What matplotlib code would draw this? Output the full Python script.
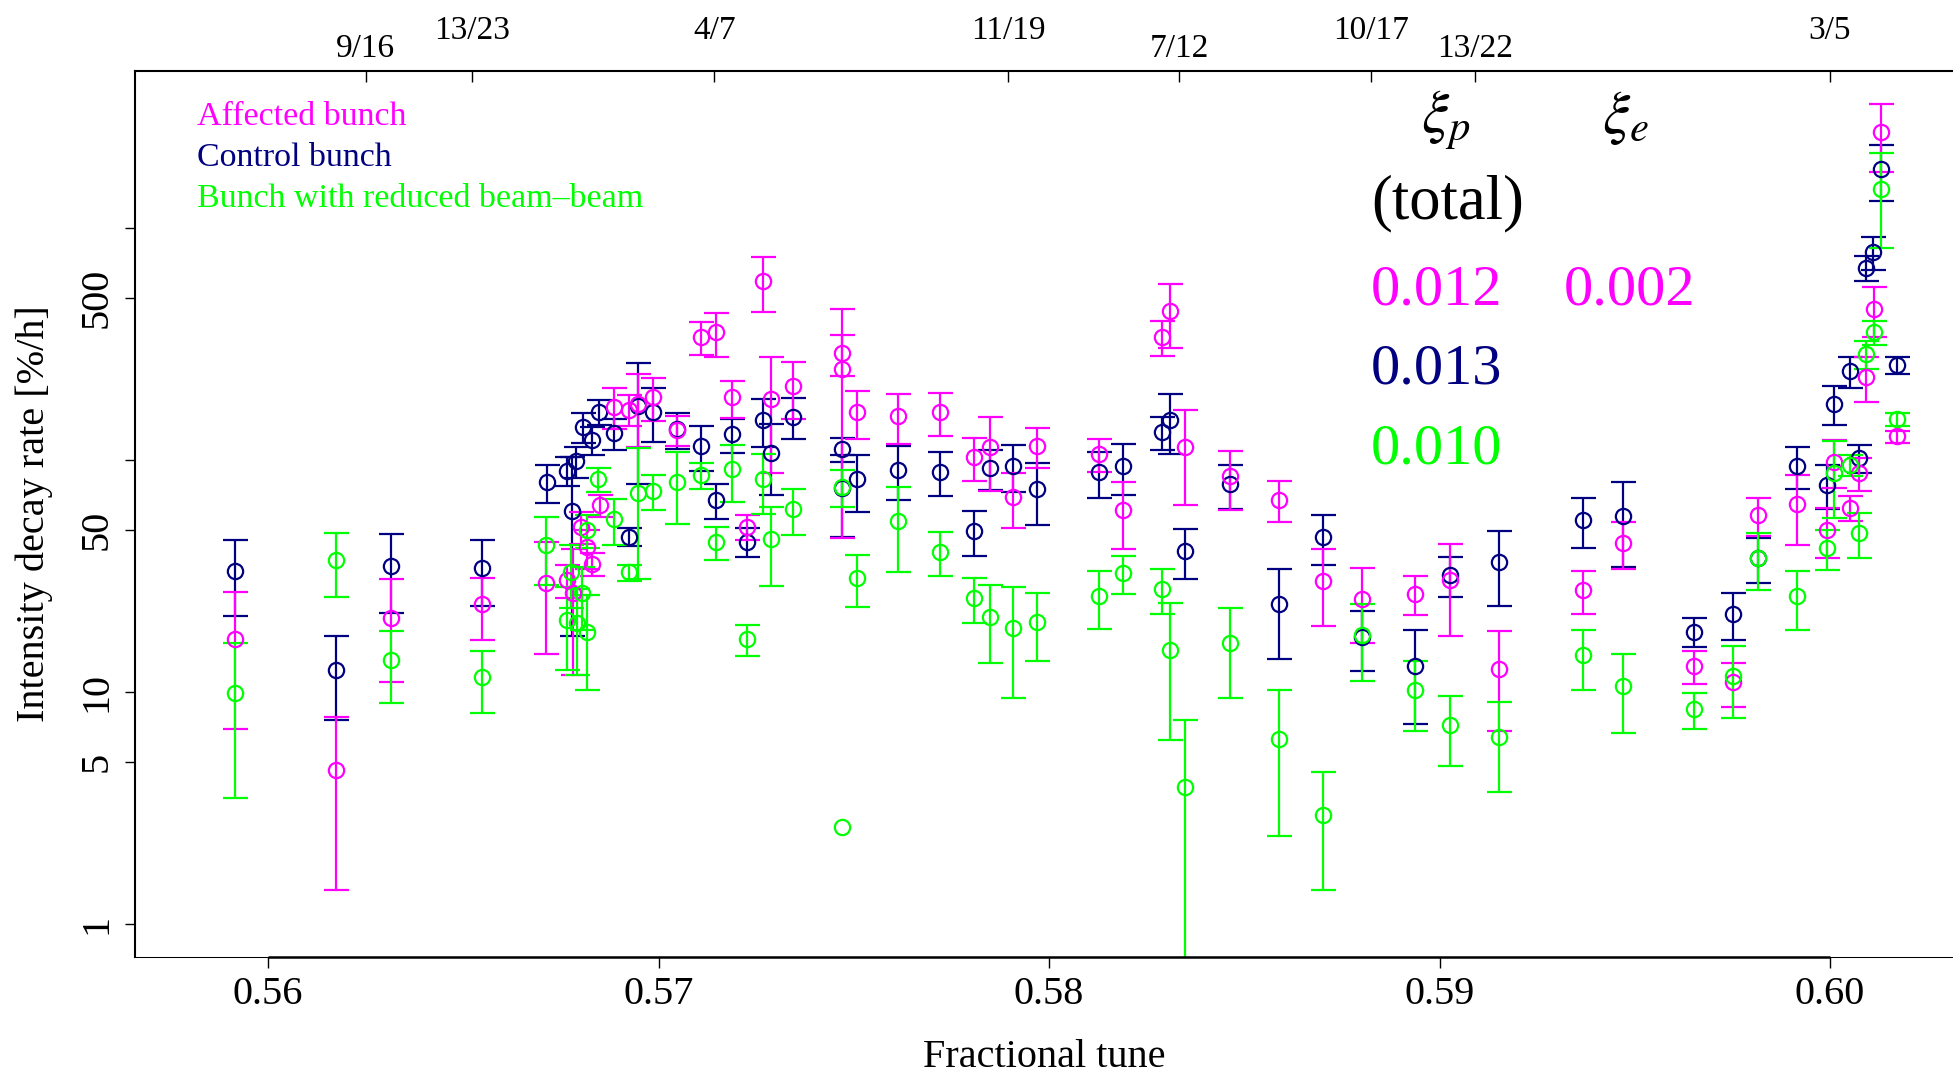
import matplotlib

matplotlib.use("Agg")
import numpy as np
from matplotlib import pyplot as plt

# affected bunch (magenta)
affected_tune = [
    0.55915, 0.56173, 0.56316, 0.56549, 0.56712, 0.56765, 0.56782, 0.56801,
    0.56816, 0.56829, 0.56850, 0.56886, 0.56925, 0.56947, 0.56987, 0.57047,
    0.57108, 0.57147, 0.57187, 0.57227, 0.57268, 0.57288, 0.57344, 0.57469,
    0.57469, 0.57508, 0.57613, 0.57722, 0.57809, 0.57849, 0.57908, 0.57969,
    0.58129, 0.58189, 0.58289, 0.58310, 0.58349, 0.58464, 0.58590, 0.58701,
    0.58802, 0.58936, 0.59028, 0.59152, 0.59368, 0.59471, 0.59652, 0.59752,
    0.59815, 0.59915, 0.59992, 0.60011, 0.60051, 0.60073, 0.60092, 0.60113,
    0.60131, 0.60172,
]
affected_rate = [
    17.0, 4.6, 20.8, 23.9, 29.4, 30.4, 26.6, 51.6,
    42.0, 35.6, 64.0, 170, 165, 174, 187, 135,
    338, 355, 186, 51.6, 593, 183, 208, 288,
    246, 161, 155, 161, 103, 113.5, 69.5, 115,
    106, 61, 340, 439, 114, 85, 67.5, 30.2,
    25.2, 26.5, 30.4, 12.6, 27.5, 44, 12.9, 11.0,
    57.9, 64.5, 50, 98.5, 62.3, 87.7, 228, 448,
    2585, 126.4,
]
affected_err = [
    10.1, 3.2, 9.8, 7.2, 14.8, 5, 14.8, 8,
    8, 4, 7, 34, 25, 60, 39, 20,
    54, 77, 34, 6.5, 160, 95, 57, 58,
    200, 38, 37.6, 34, 21.6, 40, 18.5, 22.7,
    17, 19.6, 59, 135, 50, 24, 13.5, 11,
    8.9, 5, 13, 5.8, 5.8, 10, 2.1, 2.4,
    11, 21.5, 12, 23, 7.5, 14, 50, 109,
    840, 7.5,
]

# control bunch (navy)
control_tune = [
    0.55915, 0.56173, 0.56316, 0.56549, 0.56714, 0.56765, 0.56778, 0.56789,
    0.56807, 0.56829, 0.56848, 0.56886, 0.56925, 0.56947, 0.56987, 0.57047,
    0.57108, 0.57147, 0.57187, 0.57227, 0.57268, 0.57288, 0.57344, 0.57469,
    0.57469, 0.57508, 0.57613, 0.57722, 0.57809, 0.57849, 0.57908, 0.57969,
    0.58129, 0.58189, 0.58289, 0.58310, 0.58349, 0.58464, 0.58590, 0.58701,
    0.58802, 0.58936, 0.59028, 0.59152, 0.59368, 0.59471, 0.59652, 0.59752,
    0.59815, 0.59915, 0.59992, 0.60011, 0.60051, 0.60073, 0.60092, 0.60111,
    0.60131, 0.60172,
]
control_rate = [
    33.2, 12.5, 35.0, 34.3, 80.6, 89.9, 60.5, 99,
    139, 122, 161.5, 131, 46.7, 171, 161.5, 135.5,
    115, 67.5, 129, 44.4, 149, 107, 154, 111.5,
    75.7, 82.5, 91, 89, 49.4, 92, 94.5, 74.7,
    88.5, 94.2, 131.6, 148.7, 40.5, 78.5, 23.9, 46.7,
    17.3, 12.9, 31.9, 36.5, 55.1, 57.5, 18.2, 21.7,
    37.7, 94.5, 78.3, 175, 242, 102, 674, 787,
    1800, 256,
]
control_err = [
    12, 4.9, 13, 10.7, 15, 13, 43, 15,
    21, 16.5, 20, 20, 4, 92, 42, 24,
    25, 11.6, 21.5, 6.3, 35, 36, 31, 13,
    29, 23, 23.6, 19, 11, 18, 22, 22,
    20, 23.5, 21, 43, 9.8, 17, 10, 11.3,
    5, 5.6, 6.3, 13, 13.3, 23, 2.6, 5,
    8.3, 19.6, 16.7, 33, 37, 14, 81, 130,
    486, 22,
]

# bunch with reduced beam-beam (green)
reduced_tune = [
    0.55915, 0.56173, 0.56316, 0.56549, 0.56712, 0.56765, 0.56777, 0.56790,
    0.56803, 0.56816, 0.56816, 0.56846, 0.56886, 0.56925, 0.56947, 0.56987,
    0.57047, 0.57108, 0.57147, 0.57187, 0.57227, 0.57268, 0.57288, 0.57344,
    0.57469, 0.57469, 0.57508, 0.57613, 0.57722, 0.57809, 0.57849, 0.57908,
    0.57969, 0.58129, 0.58189, 0.58289, 0.58310, 0.58349, 0.58464, 0.58590,
    0.58701, 0.58802, 0.58936, 0.59028, 0.59152, 0.59368, 0.59471, 0.59652,
    0.59752, 0.59815, 0.59915, 0.59992, 0.60011, 0.60051, 0.60073, 0.60092,
    0.60113, 0.60131, 0.60172,
]
reduced_rate = [
    9.9, 37.1, 13.7, 11.6, 43, 20.4, 33, 19.8,
    26.6, 49.9, 18.2, 82.5, 55.5, 32.8, 71.8, 73.5,
    80.6, 86.2, 44.4, 91.2, 16.9, 82.5, 45.6, 61.3,
    76.5, 2.63, 31, 54.6, 40.3, 25.5, 21.1, 18.9,
    20.1, 25.9, 32.5, 27.8, 15.2, 3.9, 16.2, 6.3,
    2.95, 17.6, 10.2, 7.2, 6.4, 14.4, 10.65, 8.45,
    11.75, 37.9, 26, 41.9, 88.2, 95.1, 48.6, 287,
    356, 1466, 150,
]
reduced_err = [
    6.4, 11.3, 4.7, 3.5, 14, 8, 10, 8,
    8, 8, 8, 10, 12.5, 2.6, 41, 12.7,
    27.7, 11, 7.2, 25, 2.6, 24, 17, 14,
    14, np.nan, 7.8, 21.7, 8.6, 5.6, 7.8, 9.5,
    6.5, 7.2, 6, 6, 9, 3.65, 6.8, 3.9,
    1.55, 6.4, 3.4, 2.4, 2.7, 4.2, 4, 1.5,
    4, 10.4, 7.4, 8.2, 32, 10, 10.8, 39,
    43, 645, 10,
]

series_names = ["Affected bunch", "Control bunch", "Bunch with reduced beam\u2013beam"]
series_colors = ["#FF00FF", "#000080", "#00FF00"]
xi_p_total = ["0.012", "0.013", "0.010"]
xi_e_affected = "0.002"

bottom_ticks = [0.56, 0.57, 0.58, 0.59, 0.60]
bottom_labels = ["0.56", "0.57", "0.58", "0.59", "0.60"]
y_ticks = [1, 5, 10, 50, 100, 500, 1000]
y_labels = ["1", "5", "10", "50", "", "500", ""]

# resonance lines on the top axis, labels in two rows
res_high = [13 / 23, 4 / 7, 11 / 19, 10 / 17, 3 / 5]
res_high_labels = ["13/23", "4/7", "11/19", "10/17", "3/5"]
res_low = [9 / 16, 7 / 12, 13 / 22]
res_low_labels = ["9/16", "7/12", "13/22"]

eb_defaults = {
    "fmt": "o",
    "mfc": "none",
    "ms": 11,
    "mew": 1.6,
    "elinewidth": 1.6,
    "capsize": 9,
    "capthick": 1.6,
}


def main():
    plt.rcParams["font.family"] = ["Liberation Serif", "DejaVu Serif"]
    plt.rcParams["mathtext.fontset"] = "stix"

    fig = plt.figure(figsize=(19.53, 10.73), dpi=100)
    ax = fig.add_axes([135 / 1953, 1 - 957 / 1073, 1818 / 1953, 886 / 1073])

    data = [
        (control_tune, control_rate, control_err, series_colors[1]),
        (affected_tune, affected_rate, affected_err, series_colors[0]),
        (reduced_tune, reduced_rate, reduced_err, series_colors[2]),
    ]
    for tune, rate, err, col in data:
        ax.errorbar(tune, rate, yerr=err, color=col, mec=col, **eb_defaults)

    ax.set_yscale("log")
    ax.set_xlim(0.556594, 0.603149)
    ax.set_ylim(0.721, 4751)

    ax.set_xticks(bottom_ticks)
    ax.set_xticklabels(bottom_labels)
    ax.set_yticks(y_ticks)
    ax.set_yticklabels(y_labels, rotation=90, va="center")
    ax.yaxis.set_minor_locator(plt.NullLocator())
    ax.xaxis.set_minor_locator(plt.NullLocator())
    ax.tick_params(axis="x", direction="out", length=8, width=1, labelsize=29, pad=6)
    ax.tick_params(axis="y", direction="out", length=7, width=1, labelsize=29, pad=7)

    ax.set_xlabel("Fractional tune", fontsize=29)
    ax.set_ylabel("Intensity decay rate [%/h]", fontsize=29)
    ax.xaxis.set_label_coords(0.5, -0.092)
    ax.yaxis.set_label_coords(-0.045, 0.5)

    ax.spines["right"].set_visible(False)
    ax.spines["bottom"].set_linewidth(0.75)
    ax.spines["left"].set_linewidth(1.5)
    ax.spines["top"].set_linewidth(1.5)
    # thick axis line between the first and last tick, like the original
    ax.plot([0.56, 0.60], [0, 0], color="black", lw=1.8,
            transform=ax.get_xaxis_transform(), clip_on=False, solid_capstyle="butt")

    # resonances on top
    ax2 = ax.twiny()
    ax2.set_xlim(ax.get_xlim())
    for s in ax2.spines.values():
        s.set_visible(False)
    ax2.set_xticks(res_high)
    ax2.set_xticklabels(res_high_labels)
    ax2.set_xticks(res_low, minor=True)
    ax2.set_xticklabels(res_low_labels, minor=True)
    ax2.tick_params(axis="x", which="major", direction="in", length=8, width=1,
                    labelsize=24, pad=18)
    ax2.tick_params(axis="x", which="minor", direction="in", length=8, width=1,
                    labelsize=24, pad=5)

    # legend as plain coloured text
    leg_y = [0.9391, 0.8931, 0.8461]
    for name, col, yy in zip(series_names, series_colors, leg_y):
        ax.text(0.0341, yy, name, color=col, fontsize=24.5,
                transform=ax.transAxes, va="baseline")

    # beam-beam parameters
    ax.text(0.7075, 0.930, r"$\xi_p$", fontsize=44, transform=ax.transAxes, va="baseline")
    ax.text(0.807, 0.930, r"$\xi_e$", fontsize=44, transform=ax.transAxes, va="baseline")
    ax.text(0.6799, 0.8337, "(total)", fontsize=45, transform=ax.transAxes, va="baseline")
    num_y = [0.7359, 0.6475, 0.5572]
    for val, col, yy in zip(xi_p_total, series_colors, num_y):
        ax.text(0.6799, yy, val, color=col, fontsize=42,
                transform=ax.transAxes, va="baseline")
    ax.text(0.786, num_y[0], xi_e_affected, color=series_colors[0], fontsize=42,
            transform=ax.transAxes, va="baseline")

    plt.savefig("out.png", dpi=100)


if __name__ == "__main__":
    main()
